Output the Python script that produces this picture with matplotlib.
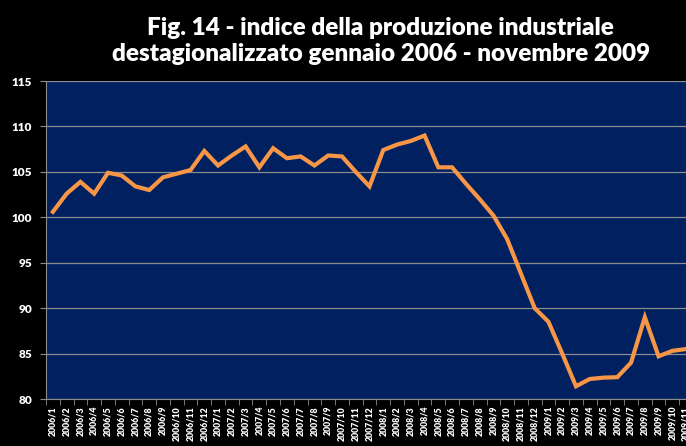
import numpy as np
import matplotlib.pyplot as plt

plt.rcParams["font.family"] = ["Lato", "DejaVu Sans"]

MONTHS = [f"{y}/{m}" for y in (2006, 2007, 2008, 2009) for m in range(1, 13)][:47]
INDEX = [100.6, 102.6, 103.9, 102.6, 104.9, 104.6, 103.4, 103.0, 104.4, 104.8,
         105.2, 107.3, 105.7, 106.8, 107.8, 105.5, 107.6, 106.5, 106.7, 105.7,
         106.8, 106.7, 105.0, 103.4, 107.4, 108.0, 108.4, 109.0, 105.5, 105.5,
         103.7, 102.0, 100.2, 97.6, 93.8, 90.0, 88.5, 85.0, 81.4, 82.2,
         82.35, 82.4, 84.0, 89.0, 84.7, 85.3, 85.5]
YTICKS = [80, 85, 90, 95, 100, 105, 110, 115]
TITLE = "Fig. 14 - indice della produzione industriale\ndestagionalizzato gennaio 2006 - novembre 2009"

fig = plt.figure(figsize=(6.86, 4.46), dpi=100, facecolor="black")
ax = fig.add_axes([46 / 686, 1 - 399 / 446, 647 / 686, 318 / 446])
ax.set_facecolor("#002060")

x = np.arange(len(INDEX))
ax.plot(x, INDEX, color="#F79646", lw=3.0, solid_joinstyle="miter", zorder=3)

ax.set_ylim(80, 115)
ax.set_yticks(YTICKS)
ax.set_yticklabels([str(v) for v in YTICKS], color="white", fontsize=8.5, fontweight="heavy")
ax.grid(axis="y", color="#8c8c8c", lw=0.9)
ax.tick_params(axis="y", length=4, color="#8c8c8c", pad=6)

ax.set_xlim(-0.5, len(INDEX) - 0.5)
ax.set_xticks(x)
ax.set_xticklabels(MONTHS, rotation=90, color="white", fontsize=6.3, fontweight="heavy")
ax.set_xticks(np.arange(-0.5, len(INDEX), 1), minor=True)
ax.tick_params(axis="x", which="major", length=0, pad=5)
ax.tick_params(axis="x", which="minor", length=4, color="#8c8c8c")

for s in ("top", "right"):
    ax.spines[s].set_visible(False)
for s in ("left", "bottom"):
    ax.spines[s].set_color("#8c8c8c")

fig.text(0.555, 0.962, TITLE, ha="center", va="top", color="white",
         fontsize=17.5, fontweight="heavy", linespacing=1.2)

fig.savefig("out.png", dpi=100, facecolor="black")
